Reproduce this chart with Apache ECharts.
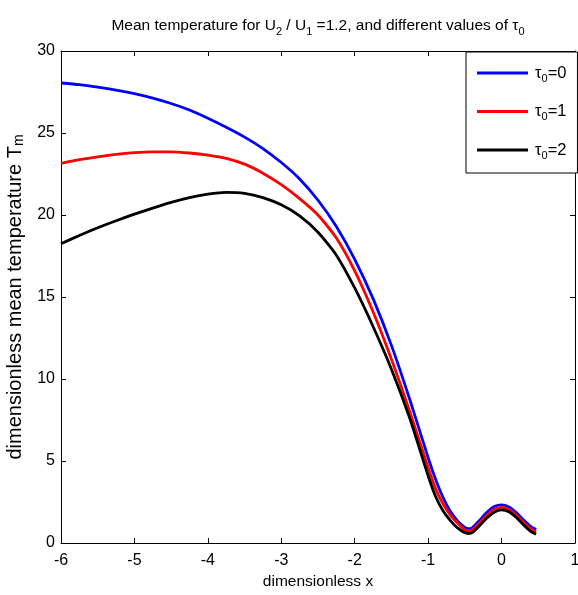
<!DOCTYPE html>
<html>
<head>
<meta charset="utf-8">
<script src="https://cdn.jsdelivr.net/npm/echarts@6/dist/echarts.min.js"></script>
<style>
  html, body { margin: 0; padding: 0; background: #fff; }
  #chart { width: 578px; height: 595px; }
</style>
</head>
<body>
<div id="chart"></div>
<script>
// Dimensionless coordinate samples
const xs = [-6, -5.75, -5.5, -5.25, -5, -4.75, -4.5, -4.25, -4, -3.75, -3.5, -3.25, -3, -2.75, -2.5, -2.25, -2,
            -1.75, -1.5, -1.25, -1, -0.9, -0.8, -0.7, -0.6, -0.5, -0.45, -0.4, -0.3, -0.2, -0.1, 0, 0.1, 0.2, 0.3, 0.4, 0.47];

// Mean temperature T_m for tau_0 = 0, 1, 2
const tau0 = [28.05, 27.95, 27.8, 27.62, 27.4, 27.13, 26.8, 26.4, 25.9, 25.35, 24.75, 24.05, 23.2, 22.2, 20.9, 19.3, 17.3,
              14.9, 12.05, 8.75, 5.2, 3.9, 2.8, 1.95, 1.35, 0.95, 0.88, 0.93, 1.38, 1.88, 2.22, 2.32, 2.2, 1.85, 1.4, 1.0, 0.82];
const tau1 = [23.15, 23.37, 23.55, 23.7, 23.8, 23.85, 23.85, 23.78, 23.65, 23.45, 23.1, 22.55, 21.85, 21.0, 20.0, 18.6, 16.6,
              14.1, 11.2, 8.0, 4.6, 3.33, 2.4, 1.72, 1.22, 0.8, 0.74, 0.8, 1.22, 1.7, 2.05, 2.17, 2.05, 1.7, 1.25, 0.85, 0.68];
const tau2 = [18.25, 18.75, 19.22, 19.65, 20.05, 20.42, 20.77, 21.06, 21.27, 21.38, 21.32, 21.06, 20.62, 19.95, 18.95, 17.55, 15.55,
              13.2, 10.6, 7.6, 4.1, 2.85, 1.98, 1.38, 0.92, 0.62, 0.58, 0.63, 1.05, 1.52, 1.88, 2.02, 1.9, 1.55, 1.1, 0.7, 0.54];

const seriesNames = ['τ{sub|0}=0', 'τ{sub|0}=1', 'τ{sub|0}=2'];
const seriesColors = ['#0000ff', '#ff0000', '#000000'];
const seriesValues = [tau0, tau1, tau2];

// Axis ranges and tick steps
const xMin = -6, xMax = 1, xStep = 1;
const yMin = 0, yMax = 30, yStep = 5;

const FONT = "'Liberation Sans', Arial, Helvetica, sans-serif";
const subStyle = { fontSize: 11, lineHeight: 9, verticalAlign: 'bottom', fontFamily: FONT, color: '#000' };
const subStyleBig = { fontSize: 14, lineHeight: 11, verticalAlign: 'bottom', fontFamily: FONT, color: '#000' };

const chart = echarts.init(document.getElementById('chart'), null, { renderer: 'canvas' });

const tickAxisCommon = {
  type: 'value',
  axisLine: { show: true, onZero: false, lineStyle: { color: '#000', width: 1 } },
  axisTick: { show: true, inside: true, length: 5, lineStyle: { color: '#000' } },
  splitLine: { show: false }
};

chart.setOption({
  animation: false,
  backgroundColor: '#fff',
  title: {
    text: 'Mean temperature for U{sub|2} / U{sub|1} =1.2, and different values of τ{sub|0}',
    left: 313,
    textAlign: 'center',
    top: 10,
    textStyle: {
      fontFamily: FONT, fontSize: 15.5, fontWeight: 'normal', color: '#000', lineHeight: 22,
      rich: { sub: subStyle }
    }
  },
  grid: { left: 61, right: 3, top: 51, bottom: 52, containLabel: false, outerBoundsMode: 'none' },
  legend: {
    orient: 'vertical',
    left: 466, top: 52,
    padding: [10, 11, 12, 11],
    icon: 'rect',
    itemWidth: 51, itemHeight: 3, itemGap: 16.5,
    backgroundColor: '#fff',
    borderColor: '#000', borderWidth: 1, borderRadius: 0,
    textStyle: {
      fontFamily: FONT, fontSize: 16.5, color: '#000', lineHeight: 22, padding: [0, 0, 0, 2],
      rich: { sub: subStyle }
    },
    data: seriesNames
  },
  xAxis: [
    Object.assign({}, tickAxisCommon, {
      min: xMin, max: xMax, interval: xStep, position: 'bottom',
      name: 'dimensionless x', nameLocation: 'middle', nameGap: 29,
      nameTextStyle: { fontFamily: FONT, fontSize: 15.5, color: '#000' },
      axisLabel: { fontFamily: FONT, fontSize: 16, color: '#000', margin: 10 }
    }),
    Object.assign({}, tickAxisCommon, {
      min: xMin, max: xMax, interval: xStep, position: 'top',
      axisLabel: { show: false }
    })
  ],
  yAxis: [
    Object.assign({}, tickAxisCommon, {
      min: yMin, max: yMax, interval: yStep, position: 'left',
      name: 'dimensionless mean temperature T{sub|m}', nameLocation: 'middle', nameGap: 32,
      nameTextStyle: { fontFamily: FONT, fontSize: 20, color: '#000', lineHeight: 22, rich: { sub: subStyleBig } },
      axisLabel: { fontFamily: FONT, fontSize: 16, color: '#000', margin: 6 }
    }),
    Object.assign({}, tickAxisCommon, {
      min: yMin, max: yMax, interval: yStep, position: 'right',
      axisLabel: { show: false }
    })
  ],
  series: seriesValues.map((vals, i) => ({
    name: seriesNames[i],
    type: 'line',
    xAxisIndex: 0,
    yAxisIndex: 0,
    smooth: 0.2,
    symbol: 'none',
    data: xs.map((x, k) => [x, vals[k]]),
    lineStyle: { color: seriesColors[i], width: 2.8 },
    itemStyle: { color: seriesColors[i] }
  }))
});
</script>
</body>
</html>
